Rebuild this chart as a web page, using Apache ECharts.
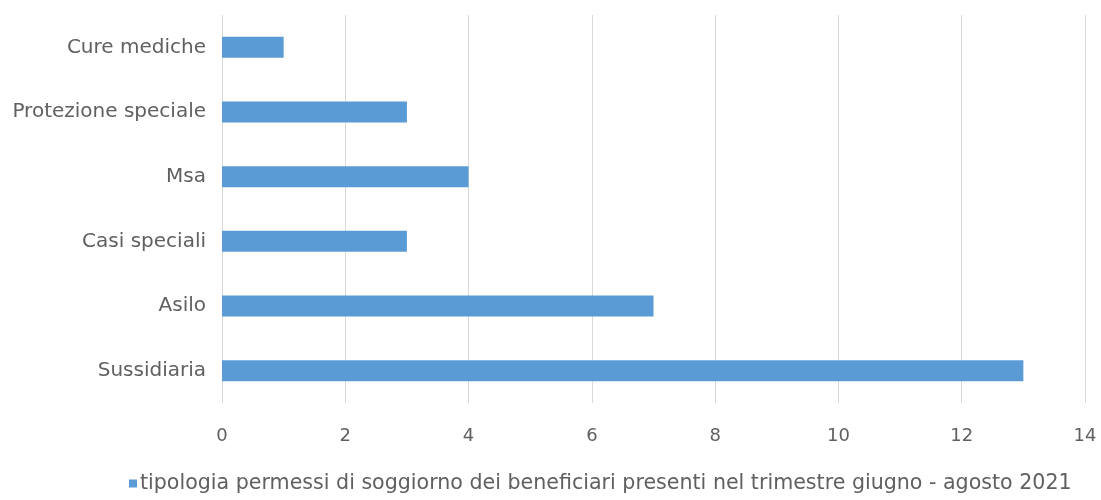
<!DOCTYPE html>
<html><head><meta charset="utf-8">
<script src="https://cdn.jsdelivr.net/npm/echarts@6/dist/echarts.min.js"></script>
<style>html,body{margin:0;padding:0;background:#fff}#c{width:1101px;height:500px}</style>
</head><body><div id="c"></div>
<script>
const categories = ["Sussidiaria", "Asilo", "Casi speciali", "Msa", "Protezione speciale", "Cure mediche"];
const values = [13, 7, 3, 4, 3, 1];
const seriesName = "tipologia permessi di soggiorno dei beneficiari presenti nel trimestre giugno - agosto 2021";
const xTicks = [0, 2, 4, 6, 8, 10, 12, 14];

const FONT = "DejaVu Sans";
const chart = echarts.init(document.getElementById('c'));
chart.setOption({
  animation: false,
  textStyle: { fontFamily: FONT },
  grid: { left: 222, right: 16, top: 15, bottom: 97, containLabel: false },
  xAxis: {
    type: 'value', min: xTicks[0], max: xTicks[xTicks.length-1], interval: 2,
    axisLine: { show: false }, axisTick: { show: false },
    axisLabel: { color: '#606060', fontSize: 18, margin: 24, fontFamily: FONT },
    splitLine: { show: true, lineStyle: { color: '#d9d9d9', width: 1 } }
  },
  yAxis: {
    type: 'category', data: categories,
    axisLine: { show: false }, axisTick: { show: false },
    axisLabel: { color: '#606060', fontSize: 20, margin: 16, fontFamily: FONT }
  },
  legend: {
    bottom: 1, left: 124, itemWidth: 8, itemHeight: 8, itemGap: 4,
    icon: 'rect',
    textStyle: { color: '#606060', fontSize: 20.6, fontFamily: FONT, padding: [0, 0, 0, -2] },
    data: [seriesName]
  },
  series: [{
    name: seriesName, type: 'bar', data: values, barWidth: 21,
    itemStyle: { color: '#5b9bd5' }
  }]
});
</script></body></html>
